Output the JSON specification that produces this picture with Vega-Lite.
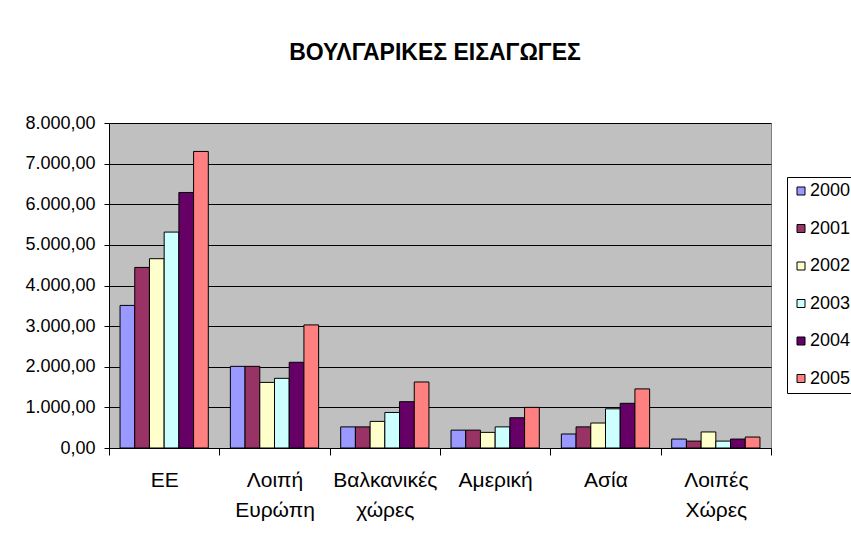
{
  "$schema": "https://vega.github.io/schema/vega-lite/v6.json",
  "width": 662,
  "height": 325,
  "autosize": {"type": "none"},
  "padding": {"left": 109, "top": 123, "right": 80, "bottom": 99},
  "background": "white",
  "title": {
    "text": "ΒΟΥΛΓΑΡΙΚΕΣ ΕΙΣΑΓΩΓΕΣ",
    "font": "Liberation Sans",
    "fontSize": 23,
    "fontWeight": "bold",
    "color": "black",
    "anchor": "middle",
    "dx": -5,
    "offset": 49
  },
  "data": {
    "values": [
      {"region": "ΕΕ", "year": "2000", "value": 3510},
      {"region": "ΕΕ", "year": "2001", "value": 4445},
      {"region": "ΕΕ", "year": "2002", "value": 4660},
      {"region": "ΕΕ", "year": "2003", "value": 5315},
      {"region": "ΕΕ", "year": "2004", "value": 6290},
      {"region": "ΕΕ", "year": "2005", "value": 7300},
      {"region": "Λοιπή Ευρώπη", "year": "2000", "value": 2010},
      {"region": "Λοιπή Ευρώπη", "year": "2001", "value": 2010},
      {"region": "Λοιπή Ευρώπη", "year": "2002", "value": 1615},
      {"region": "Λοιπή Ευρώπη", "year": "2003", "value": 1715},
      {"region": "Λοιπή Ευρώπη", "year": "2004", "value": 2110},
      {"region": "Λοιπή Ευρώπη", "year": "2005", "value": 3030},
      {"region": "Βαλκανικές χώρες", "year": "2000", "value": 520},
      {"region": "Βαλκανικές χώρες", "year": "2001", "value": 520},
      {"region": "Βαλκανικές χώρες", "year": "2002", "value": 655},
      {"region": "Βαλκανικές χώρες", "year": "2003", "value": 875},
      {"region": "Βαλκανικές χώρες", "year": "2004", "value": 1140},
      {"region": "Βαλκανικές χώρες", "year": "2005", "value": 1625},
      {"region": "Αμερική", "year": "2000", "value": 440},
      {"region": "Αμερική", "year": "2001", "value": 440},
      {"region": "Αμερική", "year": "2002", "value": 385},
      {"region": "Αμερική", "year": "2003", "value": 520},
      {"region": "Αμερική", "year": "2004", "value": 745},
      {"region": "Αμερική", "year": "2005", "value": 1000},
      {"region": "Ασία", "year": "2000", "value": 345},
      {"region": "Ασία", "year": "2001", "value": 520},
      {"region": "Ασία", "year": "2002", "value": 615},
      {"region": "Ασία", "year": "2003", "value": 965},
      {"region": "Ασία", "year": "2004", "value": 1100},
      {"region": "Ασία", "year": "2005", "value": 1455},
      {"region": "Λοιπές Χώρες", "year": "2000", "value": 220},
      {"region": "Λοιπές Χώρες", "year": "2001", "value": 170},
      {"region": "Λοιπές Χώρες", "year": "2002", "value": 395},
      {"region": "Λοιπές Χώρες", "year": "2003", "value": 170},
      {"region": "Λοιπές Χώρες", "year": "2004", "value": 220},
      {"region": "Λοιπές Χώρες", "year": "2005", "value": 270}
    ]
  },
  "mark": {"type": "bar", "stroke": "black", "strokeWidth": 1, "opacity": 1},
  "encoding": {
    "x": {
      "field": "region",
      "type": "nominal",
      "sort": ["ΕΕ", "Λοιπή Ευρώπη", "Βαλκανικές χώρες", "Αμερική", "Ασία", "Λοιπές Χώρες"],
      "scale": {"paddingInner": 0, "paddingOuter": 0},
      "axis": {
        "title": null,
        "labelAngle": 0,
        "labelExpr": "split(datum.label, ' ')",
        "labelFont": "Liberation Sans",
        "labelFontSize": 21,
        "labelColor": "black",
        "labelLineHeight": 30,
        "labelPadding": 14,
        "tickBand": "extent",
        "tickSize": 7,
        "tickColor": "black",
        "domainColor": "black",
        "grid": false
      }
    },
    "xOffset": {
      "field": "year",
      "type": "nominal",
      "scale": {"paddingInner": 0, "paddingOuter": 0.75}
    },
    "y": {
      "field": "value",
      "type": "quantitative",
      "scale": {"domain": [0, 8000], "nice": false},
      "axis": {
        "title": null,
        "values": [0, 1000, 2000, 3000, 4000, 5000, 6000, 7000, 8000],
        "format": ",.2f",
        "labelFont": "Liberation Sans",
        "labelFontSize": 18,
        "labelColor": "black",
        "labelPadding": 9,
        "tickSize": 5,
        "tickColor": "black",
        "domainColor": "black",
        "gridColor": "black",
        "gridOpacity": 1,
        "gridWidth": 1
      }
    },
    "color": {
      "field": "year",
      "type": "nominal",
      "scale": {
        "domain": ["2000", "2001", "2002", "2003", "2004", "2005"],
        "range": ["#9999FF", "#993366", "#FFFFCC", "#CCFFFF", "#660066", "#FF8080"]
      },
      "legend": {
        "title": null,
        "orient": "none",
        "legendX": 678,
        "legendY": 54,
        "padding": 5,
        "strokeColor": "black",
        "fillColor": "white",
        "symbolType": "square",
        "symbolSize": 64,
        "symbolStrokeColor": "black",
        "symbolStrokeWidth": 1,
        "symbolOpacity": 1,
        "labelFont": "Liberation Sans",
        "labelFontSize": 18,
        "labelColor": "black",
        "labelOffset": 0,
        "rowPadding": 19.5
      }
    }
  },
  "config": {
    "locale": {
      "number": {"decimal": ",", "thousands": ".", "grouping": [3], "currency": ["", " €"]}
    },
    "view": {"fill": "#C0C0C0", "stroke": "#808080", "strokeWidth": 1}
  }
}
